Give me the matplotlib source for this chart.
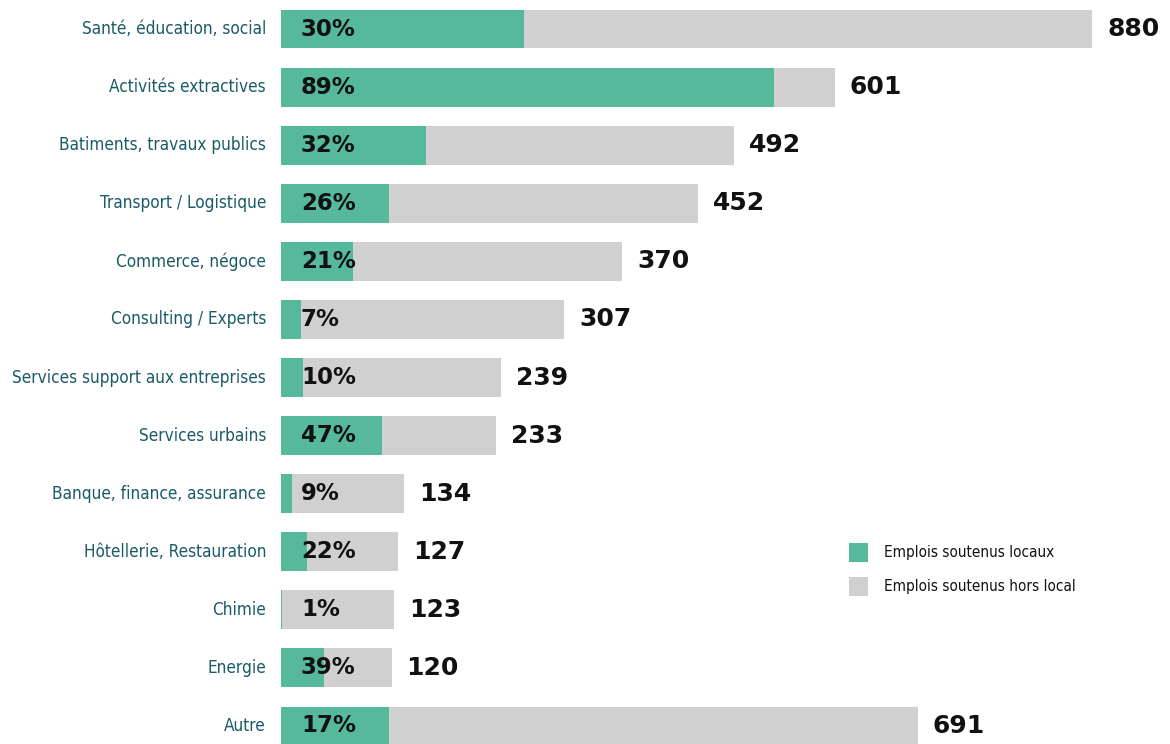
import matplotlib
matplotlib.use("Agg")
import matplotlib.pyplot as plt
from matplotlib.patches import Rectangle

categories = ["Santé, éducation, social", "Activités extractives", "Batiments, travaux publics",
              "Transport / Logistique", "Commerce, négoce", "Consulting / Experts",
              "Services support aux entreprises", "Services urbains", "Banque, finance, assurance",
              "Hôtellerie, Restauration", "Chimie", "Energie", "Autre"]
totals = [880, 601, 492, 452, 370, 307, 239, 233, 134, 127, 123, 120, 691]
local_pct = [30, 89, 32, 26, 21, 7, 10, 47, 9, 22, 1, 39, 17]
legend_labels = ["Emplois soutenus locaux", "Emplois soutenus hors local"]

GREEN = "#57b99b"
GREY = "#d0d0d0"
TEAL = "#1b5a68"

W, H = 1170, 744
fig = plt.figure(figsize=(W / 100, H / 100), dpi=100)
ax = fig.add_axes([281 / W, 0, 1 - 281 / W, 1])

y = list(range(len(categories)))
local = [t * p / 100 for t, p in zip(totals, local_pct)]
rest = [t - l for t, l in zip(totals, local)]

ax.barh(y, local, height=0.67, color=GREEN, zorder=2)
ax.barh(y, rest, left=local, height=0.67, color=GREY, zorder=2)

ax.set_xlim(0, 889 / 0.9216)
ax.set_ylim(12.31, -0.5)
ax.axis("off")

cond = dict(family="DejaVu Sans", stretch="condensed")
for yi, cat, tot, pct in zip(y, categories, totals, local_pct):
    ax.text(-15 / 0.9216, yi, cat, ha="right", va="center", color=TEAL, fontsize=12.3, **cond)
    ax.text(20 / 0.9216, yi, f"{pct}%", ha="left", va="center", color="#111111",
            fontsize=16.5, fontweight="bold")
    ax.text(tot + 15 / 0.9216, yi, f"{tot}", ha="left", va="center", color="#111111",
            fontsize=18, fontweight="bold")

colors = [GREEN, GREY]
for i, (lab, c) in enumerate(zip(legend_labels, colors)):
    top = 543 + i * 34
    fig.patches.append(Rectangle((849 / W, 1 - (top + 19) / H), 19 / W, 19 / H,
                                 transform=fig.transFigure, facecolor=c, edgecolor="none"))
    fig.text(884 / W, 1 - (top + 10) / H, lab, ha="left", va="center", color="#111111",
             fontsize=11, **cond)

fig.savefig("out.png", dpi=100)
